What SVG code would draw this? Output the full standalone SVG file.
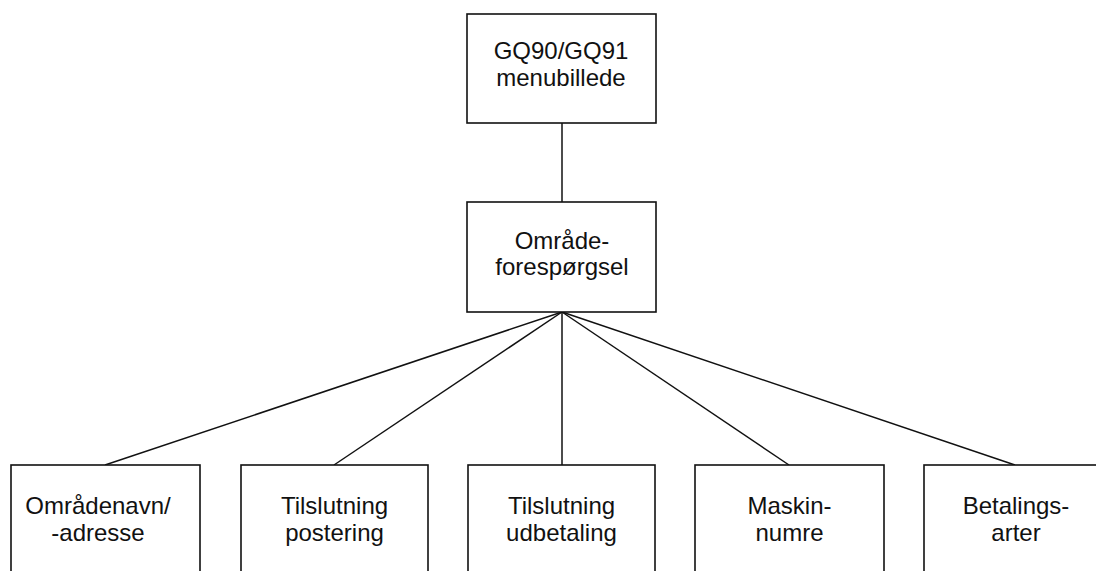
<svg xmlns="http://www.w3.org/2000/svg" width="1096" height="571" viewBox="0 0 1096 571">
<style>
.box{fill:#fff;stroke:#111;stroke-width:1.6}
.ln{stroke:#111;stroke-width:1.5;fill:none}
text{font-family:"Liberation Sans",Arial,sans-serif;font-size:24px;fill:#111;text-anchor:middle}
</style>
<rect width="1096" height="571" fill="#fff"/>
<g id="connectors">
<line class="ln" x1="562" y1="123" x2="562" y2="202"/>
<line class="ln" x1="562" y1="312" x2="105" y2="465"/>
<line class="ln" x1="562" y1="312" x2="334" y2="465"/>
<line class="ln" x1="562" y1="312" x2="562" y2="465"/>
<line class="ln" x1="562" y1="312" x2="789" y2="465"/>
<line class="ln" x1="562" y1="312" x2="1015" y2="465"/>
</g>
<g id="menu">
<rect class="box" x="467" y="14" width="189" height="109"/>
<text x="561" y="59">GQ90/GQ91</text>
<text x="561" y="86">menubillede</text>
</g>
<g id="omraade">
<rect class="box" x="467" y="202" width="189" height="110"/>
<text x="562" y="249">Område-</text>
<text x="562" y="275">forespørgsel</text>
</g>
<g id="navn">
<rect class="box" x="11" y="465" width="189" height="120"/>
<text x="98" y="514">Områdenavn/</text>
<text x="98" y="541">-adresse</text>
</g>
<g id="postering">
<rect class="box" x="241" y="465" width="187" height="120"/>
<text x="334.5" y="514">Tilslutning</text>
<text x="334.5" y="541">postering</text>
</g>
<g id="udbetaling">
<rect class="box" x="468" y="465" width="187" height="120"/>
<text x="561.5" y="514">Tilslutning</text>
<text x="561.5" y="541">udbetaling</text>
</g>
<g id="maskin">
<rect class="box" x="695" y="465" width="189" height="120"/>
<text x="789.5" y="514">Maskin-</text>
<text x="789.5" y="541">numre</text>
</g>
<g id="betaling">
<rect class="box" x="924" y="465" width="189" height="120"/>
<text x="1016" y="514">Betalings-</text>
<text x="1016" y="541">arter</text>
</g>
</svg>
